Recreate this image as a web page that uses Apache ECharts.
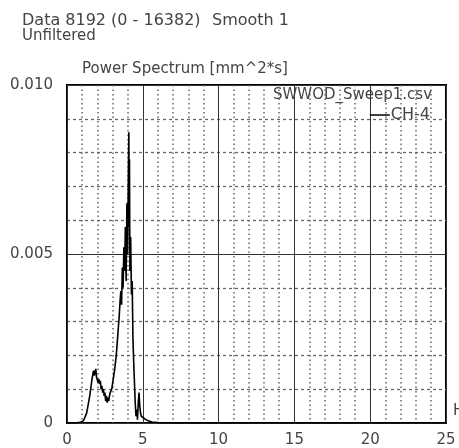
<!DOCTYPE html>
<html><head><meta charset="utf-8">
<script src="https://cdn.jsdelivr.net/npm/echarts@6/dist/echarts.min.js"></script>
<style>html,body{margin:0;padding:0;background:#fff}#c{width:459px;height:448px}</style>
</head><body><div id="c"></div>
<script>
const freqs = [0,0.5,0.9,1.1,1.3,1.5,1.65,1.75,1.8,1.85,1.9,1.95,2.0,2.05,2.1,2.15,2.2,2.25,2.3,2.35,2.4,2.45,2.5,2.55,2.6,2.65,2.7,2.75,2.8,2.85,2.95,3.05,3.15,3.25,3.35,3.45,3.5,3.55,3.6,3.65,3.7,3.75,3.8,3.85,3.9,3.95,4.0,4.05,4.08,4.1,4.12,4.15,4.2,4.25,4.3,4.35,4.4,4.45,4.5,4.55,4.6,4.65,4.7,4.75,4.8,4.85,4.9,5.0,5.2,5.4,5.6,6,7,25];
const power = [0,0,0.00002,0.00008,0.0003,0.0008,0.0013,0.00155,0.0014,0.0015,0.0016,0.00135,0.0014,0.0012,0.0013,0.00115,0.00125,0.001,0.0011,0.0009,0.001,0.0008,0.0009,0.00065,0.0008,0.0006,0.00075,0.00065,0.0008,0.0009,0.001,0.0013,0.0016,0.002,0.0026,0.0032,0.0036,0.0039,0.0035,0.0046,0.0040,0.0052,0.0045,0.0058,0.0042,0.0065,0.0050,0.0075,0.0086,0.0058,0.0078,0.0045,0.0055,0.0038,0.0042,0.0025,0.0018,0.0012,0.0006,0.0002,0.0004,0.0001,0.0006,0.0009,0.0005,0.0003,0.0002,0.00015,0.0001,0.00006,0.00003,0.00001,0,0];
const xTicks = [0,5,10,15,20,25];
const yTicks = ['0','0.005','0.010'];
const seriesName = 'CH-4';
const fileName = 'SWWOD_Sweep1.csv';

const chart = echarts.init(document.getElementById('c'));
const font = '"DejaVu Sans", sans-serif';
const txt = '#444';
chart.setOption({
  animation:false,
  textStyle:{fontFamily:font},
  grid:{left:67,right:13,top:85,bottom:24,show:true,borderColor:'#000',borderWidth:2,backgroundColor:'transparent'},
  xAxis:{type:'value',min:0,max:25,interval:5,
    axisLine:{show:false},axisTick:{show:false},
    axisLabel:{color:txt,fontSize:15,margin:10,fontFamily:font,formatter:v=>String(v)},
    splitLine:{show:true,lineStyle:{color:'#333',width:1,type:'solid'}},
    minorTick:{show:false,splitNumber:5},
    minorSplitLine:{show:true,lineStyle:{color:'#666',width:1.5,type:[1.5,3]}}},
  yAxis:{type:'value',min:0,max:0.01,interval:0.005,
    axisLine:{show:false},axisTick:{show:false},
    axisLabel:{color:txt,fontSize:15,margin:14,fontFamily:font,
      formatter:(v,i)=>yTicks[i]},
    splitLine:{show:true,lineStyle:{color:'#333',width:1,type:'solid'}},
    minorTick:{show:false,splitNumber:5},
    minorSplitLine:{show:true,lineStyle:{color:'#666',width:1.3,type:[3,3]}}},
  legend:{show:true,right:29,top:107,icon:'rect',itemWidth:20,itemHeight:1.5,itemGap:4,padding:0,
    textStyle:{color:txt,fontSize:16,fontFamily:font,padding:[0,0,0,-4]},data:[seriesName]},
  graphic:[
    {type:'text',left:22,top:13,style:{text:'Data 8192 (0 - 16382)',fill:txt,font:'16px '+font}},
    {type:'text',left:212,top:13,style:{text:'Smooth 1',fill:txt,font:'16px '+font}},
    {type:'text',left:22,top:29,style:{text:'Unfiltered',fill:txt,font:'15px '+font}},
    {type:'text',left:82,top:62,style:{text:'Power Spectrum [mm^2*s]',fill:txt,font:'15px '+font}},
    {type:'text',left:273,top:88,style:{text:fileName,fill:txt,font:'15px '+font}},
    {type:'text',left:453,top:404,style:{text:'Hz',fill:txt,font:'15px '+font}}
  ],
  series:[{name:seriesName,type:'line',symbol:'none',color:'#000',
    lineStyle:{color:'#000',width:1.6},
    data:freqs.map((f,i)=>[f,power[i]])}]
});
</script></body></html>
